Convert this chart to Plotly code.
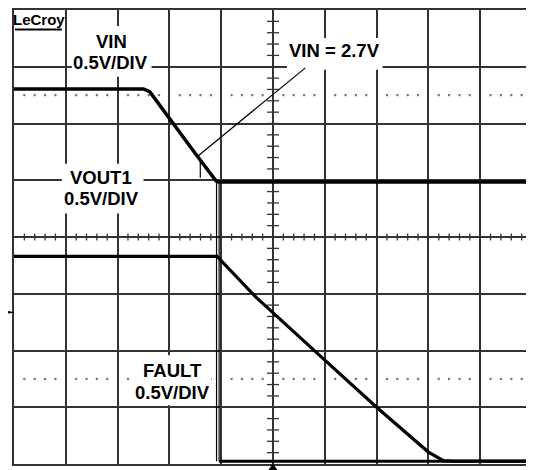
import plotly.graph_objects as go

# ---------------- data (screen divisions: x = time div, y = vertical div) -------------
vin_t = [0.0, 2.50, 2.62, 3.00, 3.50, 3.90, 3.95, 10.0]
vin_v = [6.61, 6.61, 6.56, 6.08, 5.47, 4.99, 4.97, 4.97]

vout_t = [0.0, 3.92, 4.67, 5.00, 6.00, 7.00, 8.00, 8.29, 8.50, 10.0]
vout_v = [3.66, 3.66, 2.94, 2.66, 1.83, 1.00, 0.21, 0.06, 0.05, 0.05]

fault_edge_t = [3.91, 3.96]
fault_high = 4.97
fault_low = 0.05
fault_end_t = 10.0

labels_ch = ["VIN", "VOUT1", "FAULT"]
scale_txt = "0.5V/DIV"
callout_txt = "VIN = 2.7V"
logo_txt = "LeCroy"

# ---------------- geometry (window pixels; page body has an 8px margin) ----------------
BODY = 8
WIN_W, WIN_H = 534, 470
PL, PT, PR, PBOT = 14, 9, 534, 464          # plot area in window pixels
W, H = WIN_W - BODY, WIN_H - BODY
ML, MT, MR, MB = PL - BODY, PT - BODY, WIN_W - PR, WIN_H - PBOT
PW, PH = PR - PL, PBOT - PT
NX, NY = 10, 8


def px(x):
    return (x - PL) / PW


def py(y):
    return (PBOT - y) / PH


GRID = "#333333"
fig = go.Figure()

# minor ticks on centre axes
hx, hy = [], []
for k in range(1, NX * 5):
    x = k / 5
    hx += [x, x, None]
    hy += [NY / 2 - 3.5 / (PH / NY), NY / 2 + 3.5 / (PH / NY), None]
vx, vy = [], []
for k in range(1, NY * 5):
    y = k / 5
    vx += [NX / 2 - 6 / (PW / NX), NX / 2 + 6 / (PW / NX), None]
    vy += [y, y, None]
fig.add_trace(go.Scatter(x=hx + vx, y=hy + vy, mode="lines",
                         line=dict(color=GRID, width=1.3), hoverinfo="skip"))

# dotted level rows
dx_, dy_ = [], []
for lvl in (6.5, 1.5):
    for k in range(1, NX * 5):
        if k % 5:
            dx_.append(k / 5)
            dy_.append(lvl)
fig.add_trace(go.Scatter(x=dx_, y=dy_, mode="markers",
                         marker=dict(color="#777777", size=2.2, symbol="square"),
                         hoverinfo="skip"))

# traces
fig.add_trace(go.Scatter(x=vin_t, y=vin_v, mode="lines",
                         line=dict(color="black", width=3.5), name="VIN"))
fig.add_trace(go.Scatter(x=vout_t, y=vout_v, mode="lines",
                         line=dict(color="black", width=3.2), name="VOUT1"))
fx, fy = [], []
for t in fault_edge_t:
    fx += [t, t, None]
    fy += [fault_high, fault_low, None]
fig.add_trace(go.Scatter(x=fx, y=fy, mode="lines",
                         line=dict(color="black", width=1.2), name="FAULT edge"))
fig.add_trace(go.Scatter(x=[fault_edge_t[-1], fault_end_t], y=[fault_low, fault_low],
                         mode="lines", line=dict(color="black", width=3.0), name="FAULT"))

shapes = []
# white label boxes (cover graticule)
for (x0, y0, x1, y1) in [(72, 25, 152, 76), (288, 37, 384, 69),
                         (62, 163, 144, 213), (135, 355, 212, 405)]:
    shapes.append(dict(type="rect", xref="paper", yref="paper",
                       x0=px(x0), x1=px(x1), y0=py(y1), y1=py(y0),
                       fillcolor="white", line=dict(width=0), layer="above"))
# callout line
shapes.append(dict(type="line", xref="paper", yref="paper",
                   x0=px(306.5), y0=py(67), x1=px(199), y1=py(155),
                   line=dict(color="black", width=1.2), layer="above"))
shapes.append(dict(type="line", xref="paper", yref="paper",
                   x0=px(201), y0=py(158), x1=px(201), y1=py(177),
                   line=dict(color="black", width=1.2), layer="above"))
# logo underline
shapes.append(dict(type="line", xref="paper", yref="paper",
                   x0=px(15), y0=py(28.5), x1=px(62), y1=py(28.5),
                   line=dict(color="black", width=2), layer="above"))
# channel marker at left
shapes.append(dict(type="line", xref="paper", yref="paper",
                   x0=px(8), y0=py(312), x1=px(14), y1=py(312),
                   line=dict(color="black", width=1.3), layer="above"))
shapes.append(dict(type="circle", xref="paper", yref="paper",
                   x0=px(8), y0=py(313.3), x1=px(10.6), y1=py(310.7),
                   fillcolor="black", line=dict(width=0), layer="above"))
# trigger marker bottom
shapes.append(dict(type="path", xref="paper", yref="paper",
                   path="M {} {} L {} {} L {} {} Z".format(px(274), py(463.5),
                                                          px(269.5), py(470),
                                                          px(278.5), py(470)),
                   fillcolor="black", line=dict(width=0), layer="above"))

FONT = "Liberation Sans, Arial, sans-serif"
ann = []


def label(txt, x, y, size=18.5):
    ann.append(dict(text="<b>%s</b>" % txt, xref="paper", yref="paper",
                    x=px(x), y=py(y), xanchor="center", yanchor="middle",
                    showarrow=False, font=dict(family=FONT, size=size, color="black")))


label(labels_ch[0], 112, 41)
label(scale_txt, 110.5, 62)
label(callout_txt, 336, 50)
label(labels_ch[1], 101.5, 177)
label(scale_txt, 102, 198)
label(labels_ch[2], 173.5, 370.5)
label(scale_txt, 173, 392)
label(logo_txt, 39, 18.5, size=15)

fig.update_layout(
    width=W, height=H,
    margin=dict(l=ML, r=MR, t=MT, b=MB, pad=0),
    paper_bgcolor="white", plot_bgcolor="white",
    showlegend=False,
    shapes=shapes, annotations=ann,
    xaxis=dict(range=[0, NX], dtick=1, tick0=0, showgrid=True, gridcolor=GRID,
               gridwidth=1.5, zeroline=False, showticklabels=False, ticks="",
               showline=True, mirror=True, linecolor=GRID, linewidth=1.5,
               fixedrange=True),
    yaxis=dict(range=[0, NY], dtick=1, tick0=0, showgrid=True, gridcolor=GRID,
               gridwidth=1.5, zeroline=False, showticklabels=False, ticks="",
               showline=True, mirror=True, linecolor=GRID, linewidth=1.5,
               fixedrange=True),
)

fig.write_html("out.html")
